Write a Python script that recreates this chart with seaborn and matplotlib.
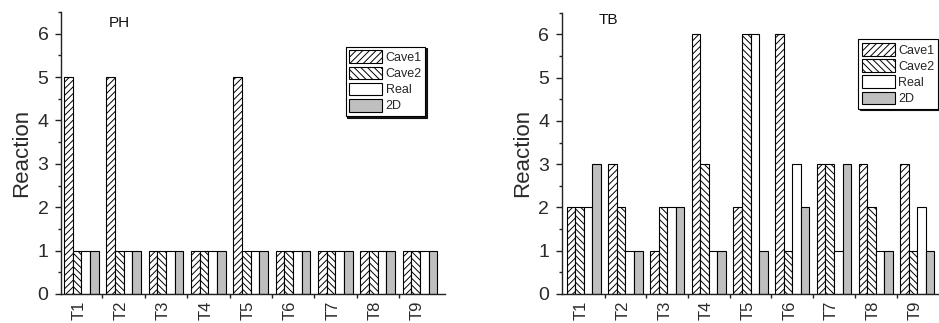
import matplotlib
matplotlib.use("Agg")
import matplotlib.pyplot as plt
import matplotlib.transforms as mtrans
from matplotlib.ticker import MultipleLocator, FixedLocator
import numpy as np
import pandas as pd
import seaborn as sns

# ---- data ----
tests = ["T1", "T2", "T3", "T4", "T5", "T6", "T7", "T8", "T9"]
series = ["Cave1", "Cave2", "Real", "2D"]

ph_cave1 = [5, 5, 1, 1, 5, 1, 1, 1, 1]
ph_cave2 = [1, 1, 1, 1, 1, 1, 1, 1, 1]
ph_real = [1, 1, 1, 1, 1, 1, 1, 1, 1]
ph_2d = [1, 1, 1, 1, 1, 1, 1, 1, 1]

tb_cave1 = [2, 3, 1, 6, 2, 6, 3, 3, 3]
tb_cave2 = [2, 2, 2, 3, 6, 1, 3, 2, 1]
tb_real = [2, 1, 2, 1, 6, 3, 1, 1, 2]
tb_2d = [3, 1, 2, 1, 1, 2, 3, 1, 1]

panel_titles = ["PH", "TB"]
y_label = "Reaction"

colors = {"Cave1": "white", "Cave2": "white", "Real": "white", "2D": "#bfbfbf"}
hatches = ["/////", "\\\\\\\\\\", "", ""]


def long_df(vals):
    rows = []
    for s, v in zip(series, vals):
        for t, y in zip(tests, v):
            rows.append({"test": t, "series": s, "value": y})
    return pd.DataFrame(rows)


sns.set_style("ticks")
plt.rcParams["font.family"] = ["Liberation Sans", "DejaVu Sans"]
plt.rcParams["hatch.linewidth"] = 0.7
plt.rcParams["hatch.color"] = "black"

W, H = 939, 323
fig = plt.figure(figsize=(W / 100, H / 100), dpi=100)

# axes positions in pixels: (left, right, top, bottom)
pos = [(61, 445, 12, 294), (561.7, 942.4, 12.7, 294)]
xlims = [(-0.48, 8.59), (-0.53, 8.6)]
leg_anchor = [(0.741, 0.877), (0.779, 0.905)]
title_pos = [(0.125, 0.962), (0.098, 0.974)]

datasets = [
    long_df([ph_cave1, ph_cave2, ph_real, ph_2d]),
    long_df([tb_cave1, tb_cave2, tb_real, tb_2d]),
]

txtc = "#2a2a2a"
for k in range(2):
    l, r, t, b = pos[k]
    ax = fig.add_axes([l / W, (H - b) / H, (r - l) / W, (b - t) / H])
    sns.barplot(
        data=datasets[k], x="test", y="value", hue="series",
        hue_order=series, order=tests, palette=colors, width=0.82,
        edgecolor="black", linewidth=0.8, errorbar=None, legend=False,
        saturation=1, ax=ax,
    )
    for cont, h in zip(ax.containers, hatches):
        for bar in cont:
            bar.set_hatch(h)
            bar.set_edgecolor("black")

    ax.set_xlim(*xlims[k])
    ax.set_ylim(0, 6.5)
    ax.yaxis.set_major_locator(MultipleLocator(1))
    ax.yaxis.set_minor_locator(MultipleLocator(0.5))
    ax.xaxis.set_minor_locator(FixedLocator(np.arange(len(tests) - 1) + 0.5))
    sns.despine(ax=ax)
    for sp in ("left", "bottom"):
        ax.spines[sp].set_color("#222")
        ax.spines[sp].set_linewidth(1.0)

    ax.tick_params(axis="y", which="major", direction="out", length=4,
                   width=1, labelsize=14, labelcolor=txtc, pad=5, color="#222")
    ax.tick_params(axis="y", which="minor", direction="out", length=2.5,
                   width=1, color="#222")
    ax.tick_params(axis="x", which="major", direction="in", length=4,
                   width=1, labelsize=12, labelcolor=txtc, pad=5, color="#222")
    ax.tick_params(axis="x", which="minor", direction="out", length=3,
                   width=1, color="#222")
    for lab in ax.get_xticklabels():
        lab.set_rotation(90)
        lab.set_transform(lab.get_transform() +
                          mtrans.ScaledTranslation(-2.5 / 100, 0, fig.dpi_scale_trans))

    ax.set_xlabel("")
    ax.set_ylabel(y_label, fontsize=16, color=txtc, labelpad=4)
    ax.text(title_pos[k][0], title_pos[k][1], panel_titles[k],
            transform=ax.transAxes, ha="left", va="center",
            fontsize=11, color="#111")

    leg = ax.legend(
        ax.containers, series, loc="upper left",
        bbox_to_anchor=leg_anchor[k], fontsize=9, handlelength=2.6,
        handleheight=1.2, labelspacing=0.2, handletextpad=0.3,
        borderpad=0.3, borderaxespad=0, fancybox=False, framealpha=1,
        edgecolor="black",
        shadow={"color": "black", "alpha": 0.9, "ox": 1.0, "oy": -1.0},
    )
    leg.get_frame().set_linewidth(0.8)

fig.savefig("out.png", dpi=100)
